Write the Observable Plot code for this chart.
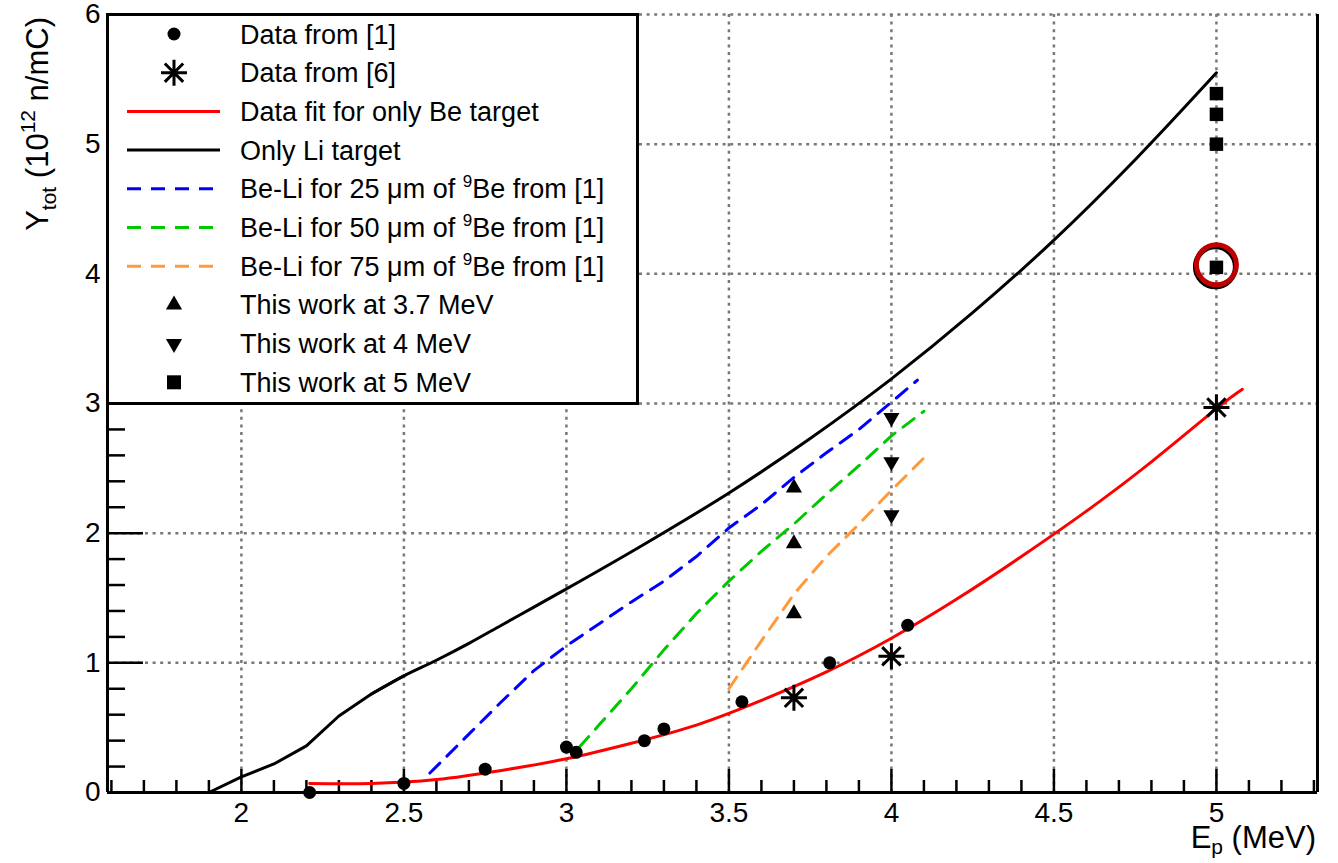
<!DOCTYPE html>
<html><head><meta charset="utf-8">
<script src="https://cdn.jsdelivr.net/npm/d3@7"></script>
<script src="https://cdn.jsdelivr.net/npm/@observablehq/plot@0.6"></script>
<style>
body{margin:0;background:#fff;}
#wrap{position:relative;width:1338px;height:863px;font-family:"Liberation Sans",Arial,sans-serif;}
#wrap > svg.chart{overflow:visible;}
#legend{position:absolute;left:106px;top:13px;}
</style></head><body><div id="wrap"></div>
<script>
// ---- data ----
const liE = [1.9, 2.0, 2.1, 2.2, 2.3, 2.4, 2.5, 2.6, 2.7, 2.8, 2.9, 3.0, 3.25, 3.5, 3.75, 4.0, 4.25, 4.5, 4.75, 5.0];
const liY = [0, 0.12, 0.22, 0.36, 0.59, 0.76, 0.90, 1.02, 1.15, 1.29, 1.43, 1.57, 1.93, 2.31, 2.73, 3.19, 3.70, 4.26, 4.88, 5.55];

const fitE = [2.21, 2.4, 2.6, 2.8, 3.0, 3.2, 3.4, 3.6, 3.8, 4.0, 4.2, 4.4, 4.6, 4.8, 5.0, 5.08];
const fitY = [0.07, 0.07, 0.10, 0.17, 0.26, 0.38, 0.52, 0.71, 0.93, 1.19, 1.49, 1.82, 2.17, 2.55, 2.96, 3.11];

const be25E = [2.58, 2.7, 2.8, 2.9, 3.0, 3.1, 3.2, 3.3, 3.4, 3.5, 3.6, 3.7, 3.8, 3.9, 4.0, 4.08];
const be25Y = [0.15, 0.45, 0.70, 0.94, 1.13, 1.30, 1.47, 1.63, 1.82, 2.04, 2.22, 2.43, 2.62, 2.80, 3.01, 3.18];

const be50E = [3.04, 3.1, 3.2, 3.3, 3.4, 3.5, 3.6, 3.7, 3.8, 3.9, 4.0, 4.1];
const be50Y = [0.35, 0.52, 0.80, 1.10, 1.38, 1.63, 1.86, 2.07, 2.30, 2.52, 2.75, 2.94];

const be75E = [3.5, 3.6, 3.7, 3.8, 3.9, 4.0, 4.1];
const be75Y = [0.80, 1.17, 1.53, 1.82, 2.07, 2.33, 2.58];

const ref1E = [2.21, 2.5, 2.75, 3.0, 3.03, 3.24, 3.3, 3.54, 3.81, 4.05];
const ref1Y = [0.0, 0.07, 0.18, 0.35, 0.31, 0.40, 0.49, 0.70, 1.00, 1.29];

const ref6E = [3.7, 4.0, 5.0];
const ref6Y = [0.73, 1.05, 2.97];

const w37E = [3.7, 3.7, 3.7];
const w37Y = [2.35, 1.92, 1.38];
const w4E = [4.0, 4.0, 4.0];
const w4Y = [2.89, 2.55, 2.14];
const w5E = [5.0, 5.0, 5.0, 5.0];
const w5Y = [5.39, 5.23, 5.00, 4.05];

const highlightE = [5.0];
const highlightY = [4.07];

const xDomain = [1.588, 5.311];
const yDomain = [0, 6];
const xLabelTicks = [2, 2.5, 3, 3.5, 4, 4.5, 5];
const xMinorTicks = [1.6,1.7,1.8,1.9,2.1,2.2,2.3,2.4,2.6,2.7,2.8,2.9,3.1,3.2,3.3,3.4,3.6,3.7,3.8,3.9,4.1,4.2,4.3,4.4,4.6,4.7,4.8,4.9,5.1,5.2,5.3];
const yLabelTicks = [0, 1, 2, 3, 4, 5, 6];
const yGridTicks = [1, 2, 3, 4, 5, 6];
const yMinorTicks = [0.2,0.4,0.6,0.8,1.2,1.4,1.6,1.8,2.2,2.4,2.6,2.8,3.2,3.4,3.6,3.8,4.2,4.4,4.6,4.8,5.2,5.4,5.6,5.8];

const legendItems = [
  {kind:"dot", label:"Data from [1]"},
  {kind:"asterisk", label:"Data from [6]"},
  {kind:"line", color:"#ff0000", dash:null, label:"Data fit for only Be target"},
  {kind:"line", color:"#000000", dash:null, label:"Only Li target"},
  {kind:"line", color:"#0000ff", dash:"14,10", label:"Be-Li for 25 \u03bcm of ", sup:"9", tail:"Be from [1]"},
  {kind:"line", color:"#00c800", dash:"14,10", label:"Be-Li for 50 \u03bcm of ", sup:"9", tail:"Be from [1]"},
  {kind:"line", color:"#ff9a3c", dash:"14,10", label:"Be-Li for 75 \u03bcm of ", sup:"9", tail:"Be from [1]"},
  {kind:"up", label:"This work at 3.7 MeV"},
  {kind:"down", label:"This work at 4 MeV"},
  {kind:"square", label:"This work at 5 MeV"}
];

// ---- build ----
const zip = (xs, ys) => xs.map((x, i) => ({x, y: ys[i]}));
const W = 1338, H = 863, mL = 107, mR = 21, mT = 14, mB = 71;
const plotW = W - mL - mR, plotH = H - mT - mB;
const FONT = "'Liberation Sans', Arial, sans-serif";

const asteriskSymbol = {
  draw(ctx, size) {
    const r = Math.sqrt(size / Math.PI);
    const d = r * Math.SQRT1_2;
    ctx.moveTo(0, -r); ctx.lineTo(0, r);
    ctx.moveTo(-r, 0); ctx.lineTo(r, 0);
    ctx.moveTo(-d, -d); ctx.lineTo(d, d);
    ctx.moveTo(-d, d); ctx.lineTo(d, -d);
  }
};

const gridStyle = {stroke: "#777", strokeOpacity: 1, strokeWidth: 2.5, strokeDasharray: "3,4.6"};
const fmt = d => String(d);
const liAll = zip(liE, liY);
const liLow = liAll.filter(d => d.x <= 2.5);
const liHigh = liAll.filter(d => d.x >= 2.4);

const chart = Plot.plot({
  className: "chart",
  width: W, height: H,
  marginLeft: mL, marginRight: mR, marginTop: mT, marginBottom: mB,
  x: {domain: xDomain, label: null},
  y: {domain: yDomain, label: null},
  style: {fontFamily: FONT, fontSize: "28px", color: "black", background: "white", overflow: "visible"},
  marks: [
    Plot.gridX(xLabelTicks, gridStyle),
    Plot.gridY(yGridTicks, gridStyle),
    Plot.tickX(xMinorTicks, {x: d => d, insetTop: plotH - 12, strokeWidth: 2.5}),
    Plot.tickX(xLabelTicks, {x: d => d, insetTop: plotH - 23, strokeWidth: 2.5}),
    Plot.tickY(yMinorTicks, {y: d => d, insetRight: plotW - 18, strokeWidth: 2.5}),
    Plot.tickY(yLabelTicks, {y: d => d, insetRight: plotW - 36, strokeWidth: 2.5}),
    Plot.axisX(xLabelTicks, {tickSize: 0, tickPadding: 10, fontSize: 28, label: null, tickFormat: fmt}),
    Plot.axisY(yLabelTicks, {tickSize: 0, tickPadding: 7, fontSize: 28, label: null, tickFormat: fmt}),
    Plot.ruleX([xDomain[0]], {strokeWidth: 3}),
    Plot.ruleX([xDomain[1]], {strokeWidth: 3}),
    Plot.ruleY([yDomain[0]], {strokeWidth: 3}),
    Plot.line(liLow, {x: "x", y: "y", stroke: "black", strokeWidth: 3}),
    Plot.line(liHigh, {x: "x", y: "y", stroke: "black", strokeWidth: 3, curve: "monotone-x"}),
    Plot.line(zip(fitE, fitY), {x: "x", y: "y", stroke: "#ff0000", strokeWidth: 3, curve: "natural"}),
    Plot.line(zip(be25E, be25Y), {x: "x", y: "y", stroke: "#0000ff", strokeWidth: 3, strokeDasharray: "14,10"}),
    Plot.line(zip(be50E, be50Y), {x: "x", y: "y", stroke: "#00c800", strokeWidth: 3, strokeDasharray: "14,10"}),
    Plot.line(zip(be75E, be75Y), {x: "x", y: "y", stroke: "#ff9a3c", strokeWidth: 3, strokeDasharray: "14,10"}),
    Plot.dot(zip(ref1E, ref1Y), {x: "x", y: "y", r: 6.5, fill: "black", stroke: "none"}),
    Plot.dot(zip(ref6E, ref6Y), {x: "x", y: "y", r: 13, symbol: asteriskSymbol, fill: "none", stroke: "black", strokeWidth: 3}),
    Plot.dot(zip(w37E, w37Y), {x: "x", y: "y", r: 6, symbol: "triangle", fill: "black", stroke: "none"}),
    Plot.dot(zip(w4E, w4Y), {x: "x", y: "y", r: 6, symbol: "triangle", rotate: 180, fill: "black", stroke: "none"}),
    Plot.dot(zip(w5E, w5Y), {x: "x", y: "y", r: 7.6, symbol: "square", fill: "black", stroke: "none"}),
    Plot.dot(zip(highlightE, highlightY), {x: "x", y: "y", r: 20, fill: "none", stroke: "black", strokeWidth: 5, dx: -1, dy: 2}),
    Plot.dot(zip(highlightE, highlightY), {x: "x", y: "y", r: 20, fill: "none", stroke: "#c00000", strokeWidth: 5})
  ]
});

const wrap = document.getElementById("wrap");
wrap.appendChild(chart);

// axis titles
const svg = d3.select(chart);
const yt = svg.append("text")
  .attr("transform", "translate(48,17) rotate(-90)")
  .attr("text-anchor", "end")
  .attr("font-family", FONT)
  .attr("font-size", 31).attr("fill", "black");
yt.append("tspan").text("Y");
yt.append("tspan").attr("font-size", 21).attr("dy", 8).text("tot");
yt.append("tspan").attr("dy", -8).text(" (10");
yt.append("tspan").attr("font-size", 21).attr("dy", -13).text("12");
yt.append("tspan").attr("dy", 13).text(" n/mC)");

const xt = svg.append("text")
  .attr("x", 1316).attr("y", 848)
  .attr("text-anchor", "end")
  .attr("font-family", FONT)
  .attr("font-size", 31).attr("fill", "black");
xt.append("tspan").text("E");
xt.append("tspan").attr("font-size", 21).attr("dy", 6).text("p");
xt.append("tspan").attr("dy", -6).text(" (MeV)");

// legend
const LW = 533, LH = 392;
const lg = d3.select(wrap).append("svg").attr("id", "legend").attr("width", LW).attr("height", LH);
lg.append("rect").attr("x", 1.5).attr("y", 1.5).attr("width", LW - 3).attr("height", LH - 3)
  .attr("fill", "white").attr("stroke", "black").attr("stroke-width", 3);
const sx = 68, lx1 = 21, lx2 = 114, tx = 134;
legendItems.forEach((it, i) => {
  const cy = 21 + i * 38.7;
  const g = lg.append("g");
  if (it.kind === "dot") g.append("circle").attr("cx", sx).attr("cy", cy).attr("r", 6.5).attr("fill", "black");
  else if (it.kind === "asterisk") {
    const p = d3.path(); asteriskSymbol.draw(p, 13 * 13 * Math.PI);
    g.append("path").attr("transform", `translate(${sx},${cy})`).attr("d", p.toString()).attr("fill", "none").attr("stroke", "black").attr("stroke-width", 3);
  } else if (it.kind === "line") {
    g.append("line").attr("x1", lx1).attr("x2", lx2).attr("y1", cy).attr("y2", cy)
      .attr("stroke", it.color).attr("stroke-width", 3).attr("stroke-dasharray", it.dash);
  } else if (it.kind === "up" || it.kind === "down") {
    const p = d3.symbol(d3.symbolTriangle, 6 * 6 * Math.PI)();
    g.append("path").attr("d", p).attr("transform", `translate(${sx},${cy}) rotate(${it.kind === "down" ? 180 : 0})`).attr("fill", "black");
  } else if (it.kind === "square") {
    g.append("rect").attr("x", sx - 7).attr("y", cy - 7).attr("width", 14).attr("height", 14).attr("fill", "black");
  }
  const t = g.append("text").attr("x", tx).attr("y", cy + 9.5)
    .attr("font-family", FONT).attr("font-size", 27).attr("fill", "black");
  t.append("tspan").text(it.label);
  if (it.sup) {
    t.append("tspan").attr("font-size", 17).attr("dy", -11).text(it.sup);
    t.append("tspan").attr("dy", 11).text(it.tail);
  }
});
</script>
</body></html>
